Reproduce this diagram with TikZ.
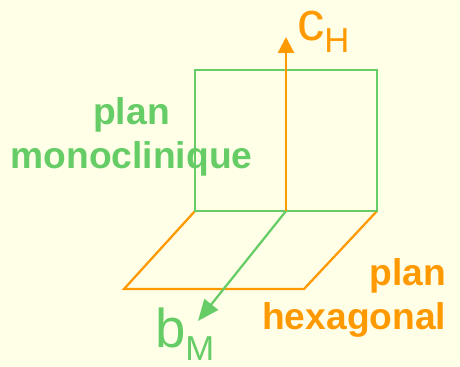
\documentclass[tikz,border=0pt]{standalone}
\usepackage{fontspec}
\setmainfont{Liberation Sans}
\usepackage{xcolor}
\usetikzlibrary{arrows.meta}
\definecolor{figback}{RGB}{255,255,232}
\definecolor{figorange}{RGB}{255,153,0}
\definecolor{figgreen}{RGB}{102,204,102}
\tikzset{
  hexl/.style ={draw=figorange, line width=1.7pt},
  monol/.style={draw=figgreen, line width=1.7pt},
  hexptr/.style ={hexl, -{Triangle[length=12pt,width=12pt]}},
  monoptr/.style={monol, -{Triangle[length=16pt,width=13pt]}},
  lab/.style  ={font=\fontsize{27.9}{33}\bfseries\selectfont, inner sep=0pt},
  axe/.style  ={font=\fontsize{41}{48}\selectfont, inner sep=0pt, anchor=base west},
  axes/.style ={font=\fontsize{26}{31}\selectfont, inner sep=0pt, anchor=base west},
}

\begin{document}
\begin{tikzpicture}[x=0.75pt,y=-0.75pt]
  \fill[figback] (0,0) rectangle (460,367);
  \useasboundingbox (0,0) rectangle (460,367);
  % plan hexagonal
  \coordinate (hexa) at (195,211);
  \coordinate (hexb) at (124,289);
  \coordinate (hexc) at (304,289);
  \coordinate (hexd) at (377,211);
  \draw[hexl,line join=miter] (hexa) -- (hexb) -- (hexc) -- (hexd);
  % plan monoclinique
  \coordinate (monoa) at (195,70);
  \coordinate (monob) at (377,70);
  \coordinate (mid) at (286,211);
  \coordinate (tipb) at (198,321);
  \coordinate (tipc) at (286,37);
  \draw[monol] (hexa) -- (monoa) -- (monob) -- (hexd) -- cycle;
  % axes
  \draw[monoptr] (mid) -- (tipb);
  \draw[hexptr] (mid) -- (tipc);
  \node[axe,text=figorange] (cc) at (297,41) {c};
  \node[axes,text=figorange] (ch) at (324,52.5) {H};
  \node[axe,text=figgreen] (bb) at (155,347) {b};
  \node[axes,text=figgreen] (bm) at (185,360) {M};
  % textes
  \node[lab,text=figgreen,anchor=base] (plana) at (131.5,125) {plan};
  \node[lab,text=figgreen,anchor=base] (monot) at (131.5,168) {monoclinique};
  \node[lab,text=figorange,anchor=base east] (planb) at (446.5,285.5) {plan};
  \node[lab,text=figorange,anchor=base east] (hext) at (446.5,329.5) {hexagonal};
\end{tikzpicture}
\end{document}
